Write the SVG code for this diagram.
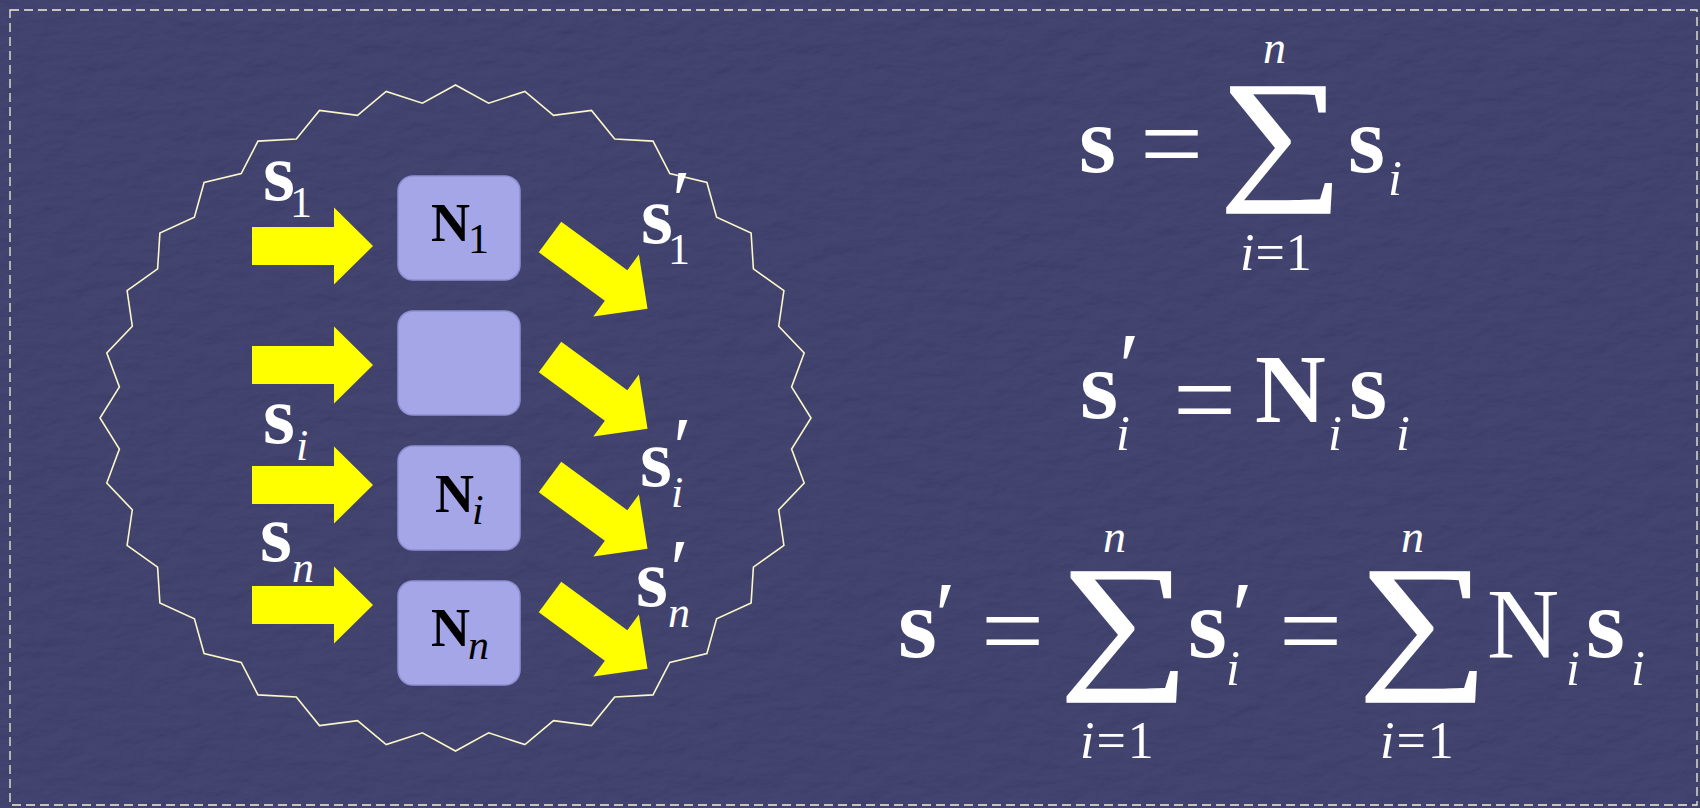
<svg xmlns="http://www.w3.org/2000/svg" width="1700" height="808" viewBox="0 0 1700 808">
<defs>
<style>
.b{font-family:"Liberation Serif","Times New Roman",serif;font-weight:bold;}
.r{font-family:"Liberation Serif","Times New Roman",serif;font-weight:normal;font-style:normal;}
.i{font-family:"Liberation Serif","Times New Roman",serif;font-style:italic;font-weight:normal;}
.w{fill:#ffffff;}
.k{fill:#000000;}
.sig{stroke:#ffffff;stroke-width:1.4;}
.box{fill:#a5a6e8;stroke:#8e8fd2;stroke-width:1.5;}
.arr{fill:#ffff00;}
</style>
<filter id="tex" x="0" y="0" width="100%" height="100%">
<feTurbulence type="fractalNoise" baseFrequency="0.03 0.06" numOctaves="4" seed="7" result="n"/>
<feDiffuseLighting in="n" lighting-color="#ffffff" surfaceScale="3" result="l"><feDistantLight azimuth="235" elevation="50"/></feDiffuseLighting>
</filter>
<path id="arrow" d="M0,-19 H82 V-38.5 L121,0 L82,38.5 V19 H0 Z"/>
</defs>
<rect x="0" y="0" width="1700" height="808" fill="#323463"/>
<rect x="0" y="0" width="1700" height="808" filter="url(#tex)" opacity="0.085"/>
<rect x="10" y="10" width="1687" height="795" fill="none" stroke="#f2f0d6" stroke-width="1.3" stroke-dasharray="9 5"/>
<polygon id="boundary" fill="none" stroke="#fbf7c8" stroke-width="1.6" stroke-linejoin="miter" points="811.0,418.0 791.6,387.0 804.2,353.0 778.7,326.2 783.9,290.6 753.4,268.9 751.1,233.0 716.6,217.3 706.9,182.5 669.8,173.5 653.0,141.1 614.7,139.0 591.5,110.4 553.5,115.3 524.9,91.4 488.6,103.2 455.5,85.0 422.4,103.2 386.2,91.4 357.5,115.3 319.5,110.4 296.3,139.0 258.0,141.1 241.2,173.5 204.1,182.5 194.4,217.3 159.9,233.0 157.6,268.9 127.1,290.6 132.3,326.2 106.8,353.0 119.4,387.0 100.0,418.0 119.4,449.0 106.8,483.0 132.3,509.8 127.1,545.4 157.6,567.1 159.9,603.0 194.4,618.7 204.1,653.5 241.2,662.5 258.0,694.9 296.3,697.0 319.5,725.6 357.5,720.7 386.2,744.6 422.4,732.8 455.5,751.0 488.6,732.8 524.9,744.6 553.5,720.7 591.5,725.6 614.7,697.0 653.0,694.9 669.8,662.5 706.9,653.5 716.6,618.7 751.1,603.0 753.4,567.1 783.9,545.4 778.7,509.8 804.2,483.0 791.6,449.0"/>
<g id="connectors">
<use href="#arrow" class="arr" transform="translate(252,246)"/>
<use href="#arrow" class="arr" transform="translate(252,365)"/>
<use href="#arrow" class="arr" transform="translate(252,485)"/>
<use href="#arrow" class="arr" transform="translate(252,605)"/>
<use href="#arrow" class="arr" transform="translate(550,237) rotate(36.3)"/>
<use href="#arrow" class="arr" transform="translate(550,357) rotate(36.3)"/>
<use href="#arrow" class="arr" transform="translate(550,477) rotate(36.3)"/>
<use href="#arrow" class="arr" transform="translate(550,597) rotate(36.3)"/>
</g>
<g id="labels" class="w">
<text id="lbl-s1"><tspan class="b" font-size="82" x="263" y="200">s</tspan><tspan class="r" font-size="44" x="290" y="217">1</tspan></text>
<text id="lbl-si"><tspan class="b" font-size="82" x="263" y="443">s</tspan><tspan class="i" font-size="44" x="296" y="460">i</tspan></text>
<text id="lbl-sn"><tspan class="b" font-size="82" x="260" y="561">s</tspan><tspan class="i" font-size="44" x="292" y="582">n</tspan></text>
<text id="lbl-s1p"><tspan class="b" font-size="82" x="641" y="243">s</tspan><tspan class="i" font-size="84" x="667" y="229">′</tspan><tspan class="r" font-size="44" x="668" y="264">1</tspan></text>
<text id="lbl-sip"><tspan class="b" font-size="82" x="640" y="486">s</tspan><tspan class="i" font-size="84" x="668" y="476">′</tspan><tspan class="i" font-size="44" x="671" y="507">i</tspan></text>
<text id="lbl-snp"><tspan class="b" font-size="82" x="636" y="606">s</tspan><tspan class="i" font-size="84" x="665" y="598">′</tspan><tspan class="i" font-size="44" x="668" y="627">n</tspan></text>
</g>
<g id="node-N1"><rect class="box" x="398" y="176" width="122" height="104" rx="15"/><text class="k"><tspan class="b" font-size="54" x="431" y="241">N</tspan><tspan class="r" font-size="42" x="468" y="253">1</tspan></text></g>
<g id="node-N2"><rect class="box" x="398" y="311" width="122" height="104" rx="15"/></g>
<g id="node-Ni"><rect class="box" x="398" y="446" width="122" height="104" rx="15"/><text class="k"><tspan class="b" font-size="54" x="435" y="512">N</tspan><tspan class="i" font-size="42" x="472" y="524">i</tspan></text></g>
<g id="node-Nn"><rect class="box" x="398" y="581" width="122" height="104" rx="15"/><text class="k"><tspan class="b" font-size="54" x="431" y="646">N</tspan><tspan class="i" font-size="42" x="468" y="659">n</tspan></text></g>
<g id="equation-1" class="w">
<text class="b" font-size="95" x="1079" y="172">s</text>
<text class="r" font-size="112" x="1140" y="181">=</text>
<text class="r sig" font-size="145" transform="translate(1219,182) scale(1.2,1)">∑</text>
<text class="i" font-size="46" x="1263" y="63">n</text>
<text font-size="52" letter-spacing="1" x="1240" y="270"><tspan class="i">i</tspan><tspan class="r">=1</tspan></text>
<text><tspan class="b" font-size="95" x="1348" y="172">s</tspan><tspan class="i" font-size="50" x="1388" y="195">i</tspan></text>
</g>
<g id="equation-2" class="w">
<text><tspan class="b" font-size="98" x="1080" y="418">s</tspan><tspan class="i" font-size="95" x="1113" y="399">′</tspan><tspan class="i" font-size="50" x="1116" y="450">i</tspan></text>
<text class="r" font-size="112" x="1173" y="437">=</text>
<text><tspan class="b" font-size="98" x="1255" y="422">N</tspan><tspan class="i" font-size="50" x="1328" y="450">i</tspan></text>
<text><tspan class="b" font-size="98" x="1349" y="418">s</tspan><tspan class="i" font-size="50" x="1396" y="450">i</tspan></text>
</g>
<g id="equation-3" class="w">
<text><tspan class="b" font-size="100" x="898" y="657">s</tspan><tspan class="i" font-size="95" x="929" y="648">′</tspan></text>
<text class="r" font-size="112" x="981" y="668">=</text>
<text class="r sig" font-size="150" transform="translate(1059,670) scale(1.22,1)">∑</text>
<text class="i" font-size="46" x="1103" y="552">n</text>
<text font-size="52" letter-spacing="2" x="1080" y="758"><tspan class="i">i</tspan><tspan class="r">=1</tspan></text>
<text><tspan class="b" font-size="100" x="1188" y="657">s</tspan><tspan class="i" font-size="95" x="1226" y="648">′</tspan><tspan class="i" font-size="50" x="1226" y="685">i</tspan></text>
<text class="r" font-size="112" x="1279" y="668">=</text>
<text class="r sig" font-size="150" transform="translate(1358,670) scale(1.22,1)">∑</text>
<text class="i" font-size="46" x="1401" y="552">n</text>
<text font-size="52" letter-spacing="2" x="1380" y="758"><tspan class="i">i</tspan><tspan class="r">=1</tspan></text>
<text><tspan class="r" font-size="100" x="1487" y="657">N</tspan><tspan class="i" font-size="50" x="1566" y="685">i</tspan></text>
<text><tspan class="b" font-size="100" x="1586" y="657">s</tspan><tspan class="i" font-size="50" x="1631" y="685">i</tspan></text>
</g>
</svg>
